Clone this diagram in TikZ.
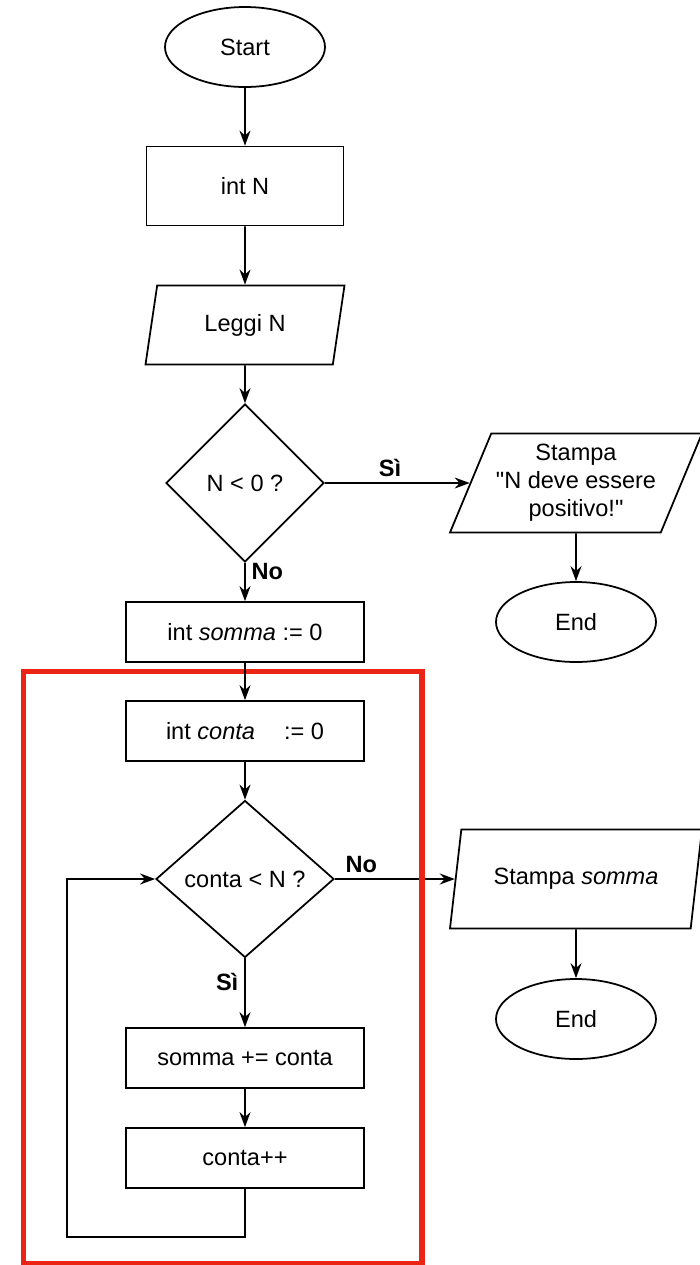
\documentclass[tikz,border=0pt]{standalone}
\usepackage{fontspec}
\setmainfont{Liberation Sans}[Ligatures=TeXOff]
\usetikzlibrary{shapes.geometric, arrows.meta}
\definecolor{loopred}{RGB}{236,36,22}

\begin{document}
\begin{tikzpicture}[
  font=\fontsize{13.4}{16}\selectfont,
  line width=1pt,
  >={Stealth[length=0.3cm, width=0.22cm]},
  term/.style={draw, ellipse, minimum width=3.2cm, minimum height=1.6cm, inner sep=0pt},
  box/.style={draw, rectangle, minimum width=4.76cm, minimum height=1.2cm, inner sep=0pt},
  io/.style={draw, trapezium, trapezium left angle=62, trapezium right angle=118,
    trapezium stretches body, inner sep=0pt, align=center},
  test/.style={draw, diamond, inner sep=0pt},
  lbl/.style={font=\fontsize{13.4}{16}\selectfont\bfseries}
]
\useasboundingbox (0,0) rectangle (14,-25.3);

\path (4.9,-0.94) node[term] (start) {Start};
\path (4.9,-3.72) node[box, minimum width=3.94cm, minimum height=1.58cm] (intN) {int N};
\path (4.9,-6.5) node[io, minimum width=3.98cm, minimum height=1.58cm] (leggi) {Leggi N};
\path (4.9,-9.66) node[test, minimum width=3.16cm, minimum height=3.16cm] (d1) {N < 0 ?};
\path (11.52,-9.66) node[io, minimum width=5.04cm, minimum height=1.98cm] (st1) {Stampa\\"N deve essere\\positivo!"};
\path (11.52,-12.44) node[term] (end1) {End};
\path (4.9,-12.64) node[box] (somma) {int \textit{somma} := 0};

\path (4.9,-14.62) node[box] (conta) {int \textit{conta}\hspace{0.45cm} := 0};
\path (4.9,-17.58) node[test, minimum width=3.56cm, minimum height=3.14cm] (d2) {conta < N ?};
\path (11.52,-17.58) node[io, minimum width=5.04cm, minimum height=1.98cm] (st2) {Stampa \textit{somma}};
\path (11.52,-20.38) node[term] (end2) {End};
\path (4.9,-21.16) node[box] (sommaplus) {somma += conta};
\path (4.9,-23.16) node[box] (contapp) {conta++};
\coordinate (loop) at (1.34,-24.74);

\draw[->] (start) -- (intN);
\draw[->] (intN) -- (leggi);
\draw[->] (leggi) -- (d1);
\draw[->] (d1) -- node[lbl, above, pos=0.45] {Sì} (st1);
\draw[->] (st1) -- (end1);
\draw[->] (d1) -- node[lbl, right, pos=0.22] {No} (somma);
\draw[->] (d2) -- node[lbl, above, pos=0.22] {No} (st2);

\draw[loopred, line width=2.85pt] (0.47,-13.42) rectangle (8.44,-25.26);

\draw[->] (somma) -- (conta);
\draw[->] (conta) -- (d2);
\draw[->] (d2) -- node[lbl, left, pos=0.35] {Sì} (sommaplus);
\draw[->] (st2) -- (end2);
\draw[->] (sommaplus) -- (contapp);
\draw[->] (contapp) |- (loop) |- (d2);
\end{tikzpicture}
\end{document}
